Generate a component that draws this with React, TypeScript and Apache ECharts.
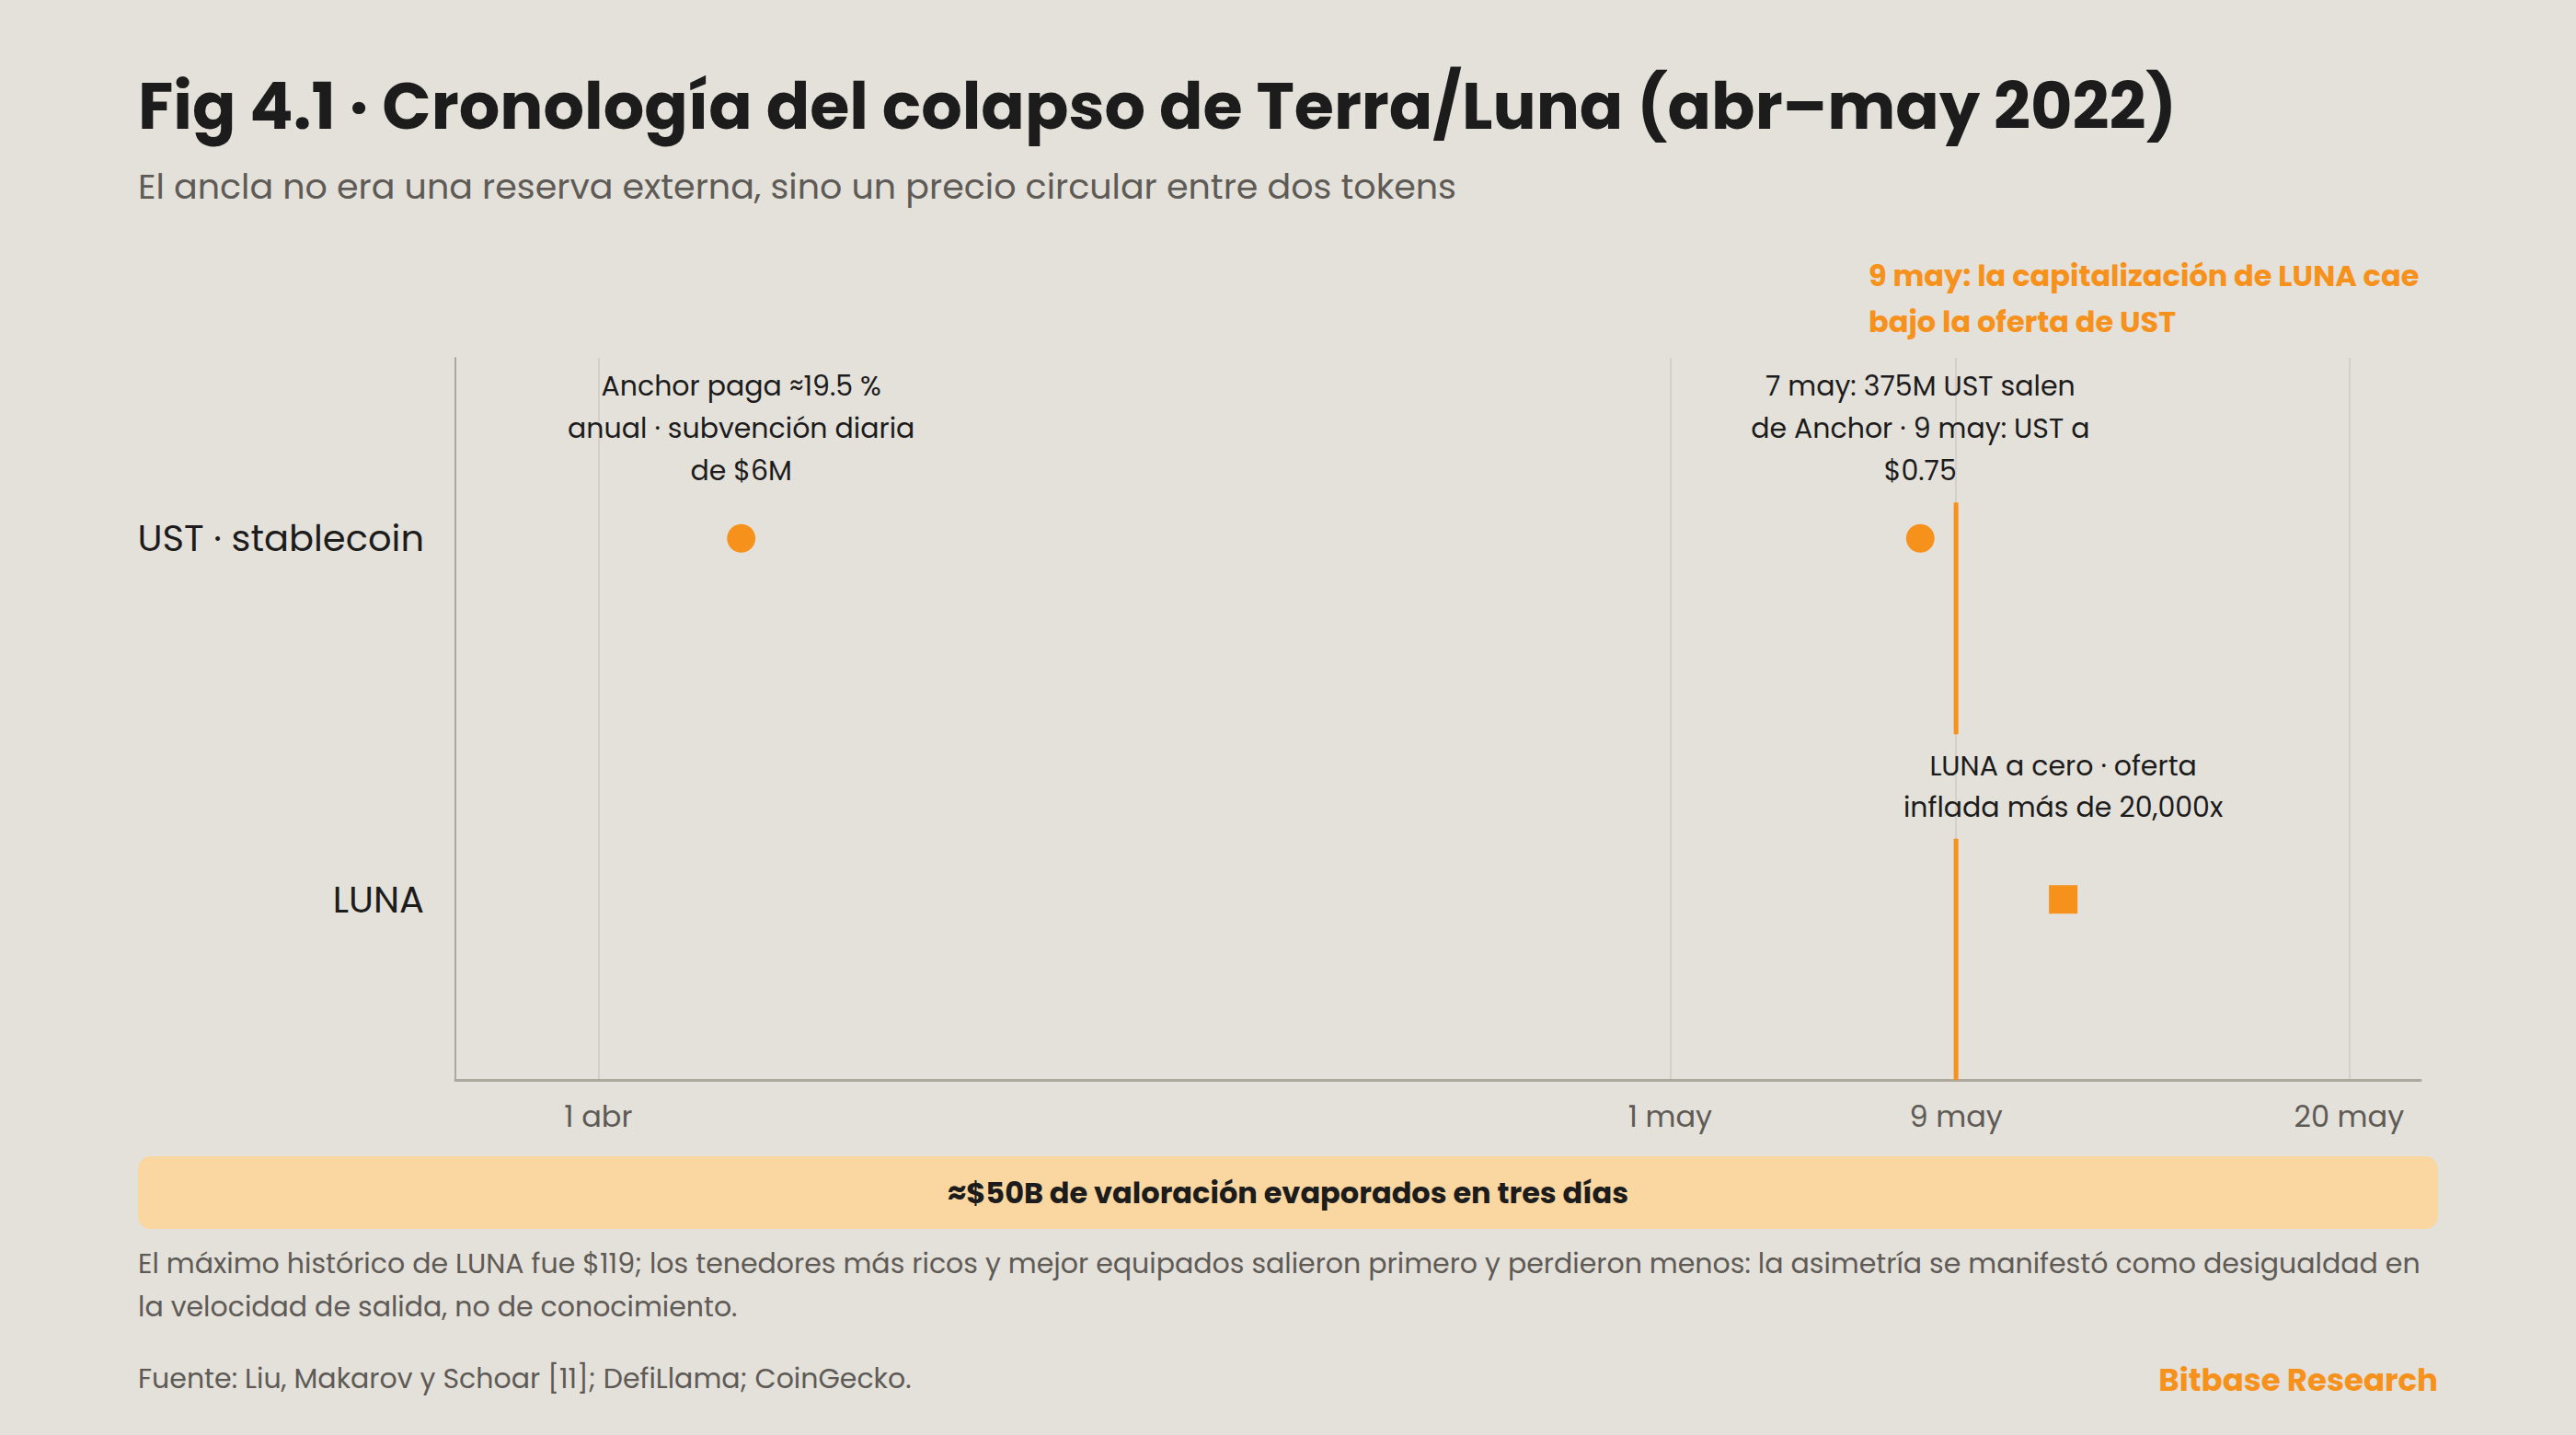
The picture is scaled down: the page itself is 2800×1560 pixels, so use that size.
import React, { useEffect, useRef } from "react";
import * as echarts from "echarts";

// colours
const BG = "#E4E0DA";
const ORANGE = "#F6911B";
const INK = "#1C1C1C";
const GREY = "#5E5B57";
const FONT = "Poppins, 'Open Sans', sans-serif";

const MONTHS = ["ene", "feb", "mar", "abr", "may", "jun", "jul", "ago", "sep", "oct", "nov", "dic"];

// data
const ROWS = ["UST · stablecoin", "LUNA"];
const X_RANGE = ["2022-03-28", "2022-05-22"];
const TICK_DATES = ["2022-04-01", "2022-05-01", "2022-05-09", "2022-05-20"];
const COLLAPSE_DATE = "2022-05-09";
const UST_DATES = ["2022-04-05", "2022-05-08"];
const UST_NOTES = [
	"Anchor paga ≈19.5 %\nanual · subvención diaria\nde $6M",
	"7 may: 375M UST salen\nde Anchor · 9 may: UST a\n$0.75",
];
const LUNA_DATES = ["2022-05-12"];
const LUNA_NOTES = ["LUNA a cero · oferta\ninflada más de 20,000x"];

const TITLE = "Fig 4.1 · Cronología del colapso de Terra/Luna (abr–may 2022)";
const SUBTITLE = "El ancla no era una reserva externa, sino un precio circular entre dos tokens";
const CALLOUT = "9 may: la capitalización de LUNA cae\nbajo la oferta de UST";
const BANNER = "≈$50B de valoración evaporados en tres días";
const NOTE =
	"El máximo histórico de LUNA fue $119; los tenedores más ricos y mejor equipados salieron primero y perdieron menos: la asimetría se manifestó como desigualdad en\nla velocidad de salida, no de conocimiento.";
const SOURCE = "Fuente: Liu, Makarov y Schoar [11]; DefiLlama; CoinGecko.";
const BRAND = "Bitbase Research";

// dates as timestamps on a plain value axis
const toTs = (s) => {
	const [y, m, d] = s.split("-").map(Number);
	return new Date(y, m - 1, d).getTime();
};

const App = () => {
	const chartRef = useRef(null);

	useEffect(() => {
		if (!chartRef.current) return;
		const chart = echarts.init(chartRef.current, null, { renderer: "svg" });
		const ticks = TICK_DATES.map(toTs);

		const option = {
			animation: false,
			backgroundColor: BG,
			textStyle: { fontFamily: FONT },
			grid: { left: 495, top: 389, width: 2136, height: 785 },
			xAxis: {
				type: "value",
				min: toTs(X_RANGE[0]),
				max: toTs(X_RANGE[1]),
				axisLine: { show: true, lineStyle: { color: "#ADA89E", width: 3 } },
				axisTick: { show: false, customValues: ticks },
				axisLabel: {
					customValues: ticks,
					fontSize: 32,
					color: GREY,
					margin: 23,
					fontFamily: FONT,
					formatter: (v) => {
						const d = new Date(v);
						return `${d.getDate()} ${MONTHS[d.getMonth()]}`;
					},
				},
				splitLine: { show: true, lineStyle: { color: "#D4D0C9", width: 2 } },
			},
			yAxis: {
				type: "category",
				data: ROWS,
				inverse: true,
				axisLine: { lineStyle: { color: "#ADA89E", width: 2 } },
				axisTick: { show: false },
				axisLabel: { fontSize: 40, color: INK, margin: 34, fontFamily: FONT },
				splitLine: { show: false },
			},
			series: [
				{
					type: "custom",
					silent: true,
					renderItem: (params, api) => {
						const [x, ust] = api.coord([api.value(0), 0]);
						const luna = api.coord([api.value(0), 1])[1];
						const bottom = params.coordSys.y + params.coordSys.height;
						const style = { stroke: ORANGE, lineWidth: 5 };
						return {
							type: "group",
							children: [
								{ type: "line", shape: { x1: x, y1: ust - 39, x2: x, y2: ust + 213 }, style },
								{ type: "line", shape: { x1: x, y1: luna - 66, x2: x, y2: bottom }, style },
							],
						};
					},
					encode: { x: 0, y: 1 },
					data: [[toTs(COLLAPSE_DATE), 0]],
					z: 3,
				},
				{
					type: "scatter",
					symbol: "circle",
					symbolSize: 31,
					itemStyle: { color: ORANGE, opacity: 1 },
					label: {
						show: true,
						position: "top",
						distance: 35,
						fontSize: 30,
						lineHeight: 46,
						color: INK,
						align: "center",
						fontFamily: FONT,
						formatter: (p) => p.data.note,
					},
					data: UST_DATES.map((d, i) => ({ value: [toTs(d), 0], note: UST_NOTES[i] })),
					z: 4,
				},
				{
					type: "scatter",
					symbol: "rect",
					symbolSize: 31,
					itemStyle: { color: ORANGE, opacity: 1 },
					label: {
						show: true,
						position: "top",
						distance: 62,
						fontSize: 30,
						lineHeight: 45,
						color: INK,
						align: "center",
						fontFamily: FONT,
						formatter: (p) => p.data.note,
					},
					data: LUNA_DATES.map((d, i) => ({ value: [toTs(d), 1], note: LUNA_NOTES[i] })),
					z: 4,
				},
			],
			graphic: [
				{
					type: "text",
					left: 150,
					top: 80,
					style: { text: TITLE, fontSize: 70, fontWeight: 700, fill: INK, fontFamily: FONT },
				},
				{
					type: "text",
					left: 150,
					top: 183,
					style: { text: SUBTITLE, fontSize: 38, fill: GREY, fontFamily: FONT },
				},
				{
					type: "text",
					left: 2031,
					top: 274,
					style: {
						text: CALLOUT,
						fontSize: 32,
						fontWeight: 700,
						lineHeight: 50,
						fill: ORANGE,
						fontFamily: FONT,
					},
				},
				{
					type: "rect",
					left: 150,
					top: 1257,
					shape: { width: 2500, height: 79, r: 14 },
					style: { fill: "#FAD6A0" },
				},
				{
					type: "text",
					x: 1400,
					y: 1296,
					style: {
						text: BANNER,
						fontSize: 32,
						fontWeight: 700,
						fill: INK,
						align: "center",
						verticalAlign: "middle",
						fontFamily: FONT,
					},
				},
				{
					type: "text",
					left: 150,
					top: 1350,
					style: { text: NOTE, fontSize: 30, lineHeight: 47, fill: GREY, fontFamily: FONT },
				},
				{
					type: "text",
					x: 150,
					y: 1498,
					style: { text: SOURCE, fontSize: 30, fill: GREY, verticalAlign: "middle", fontFamily: FONT },
				},
				{
					type: "text",
					x: 2650,
					y: 1500,
					style: {
						text: BRAND,
						fontSize: 34,
						fontWeight: 700,
						fill: ORANGE,
						align: "right",
						verticalAlign: "middle",
						fontFamily: FONT,
					},
				},
			],
		};

		chart.setOption(option);
		return () => {
			chart.dispose();
		};
	}, []);

	return (
		<div
			ref={chartRef}
			style={{ position: "fixed", left: 0, top: 0, width: "2800px", height: "1560px", background: BG }}
		/>
	);
};

export default App;
